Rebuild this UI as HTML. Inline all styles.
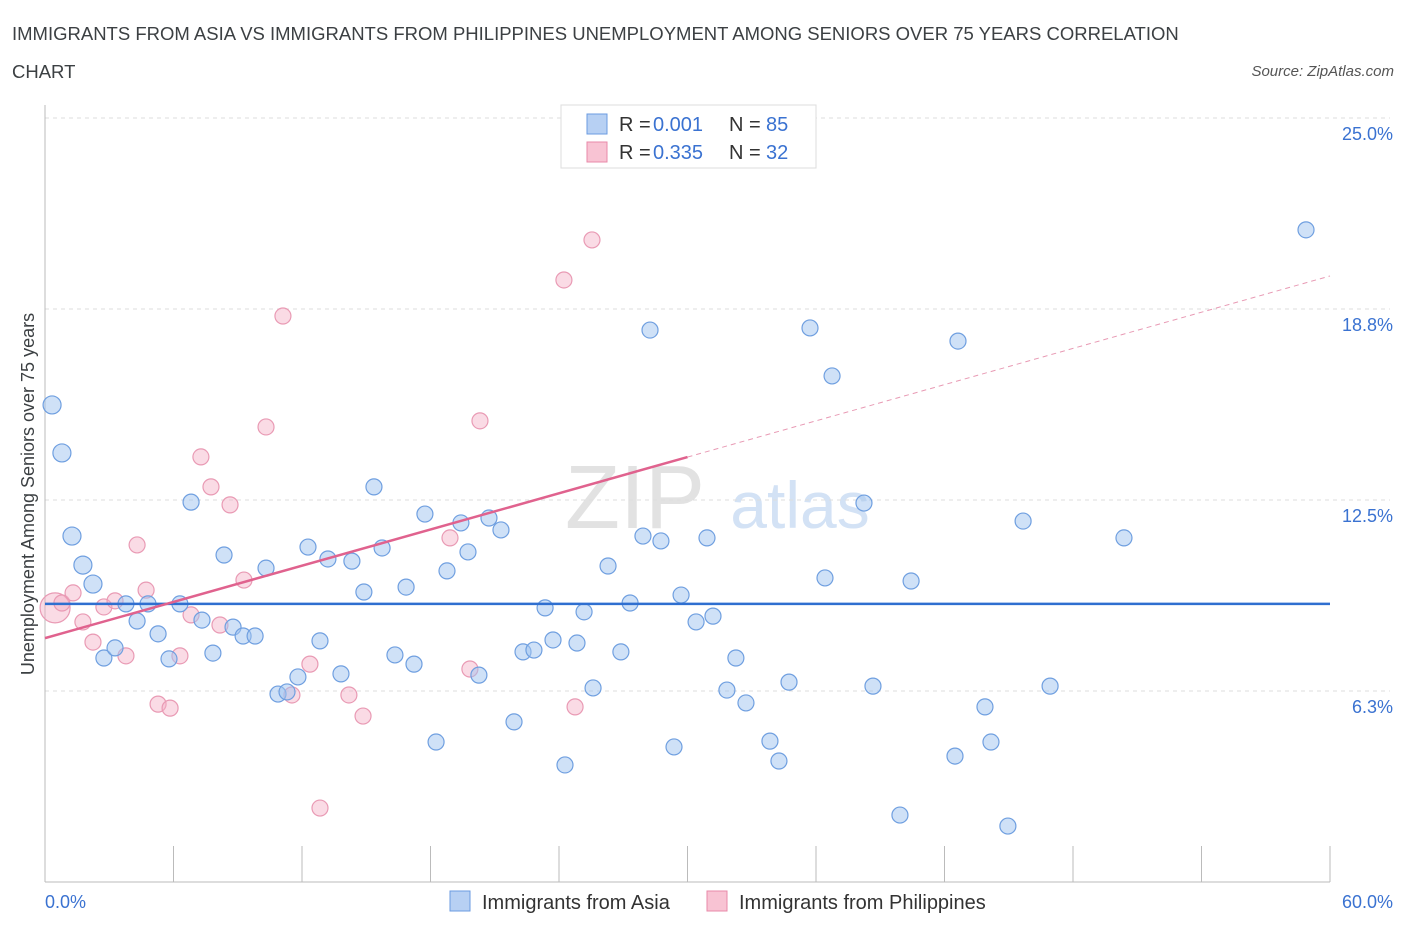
<!DOCTYPE html>
<html><head><meta charset="utf-8"><style>
body{margin:0;background:#fff;font-family:"Liberation Sans",sans-serif;}
svg text{font-family:"Liberation Sans",sans-serif;}
</style></head><body>
<svg id="chart" width="1406" height="930">
<text x="12" y="40" font-size="18.5" fill="#3c4043">IMMIGRANTS FROM ASIA VS IMMIGRANTS FROM PHILIPPINES UNEMPLOYMENT AMONG SENIORS OVER 75 YEARS CORRELATION</text>
<text x="12" y="78" font-size="18.5" fill="#3c4043">CHART</text>
<text x="1394" y="76" font-size="15" fill="#555" font-style="italic" text-anchor="end">Source: ZipAtlas.com</text>
<text x="635" y="528" font-size="90" fill="#e2e2e2" text-anchor="middle" font-family="Liberation Serif">ZIP</text>
<text x="800" y="528" font-size="66" fill="#d3e2f5" text-anchor="middle">atlas</text>
<g id="grid"></g>
<g id="axes"></g>
<g id="marks"></g>
<text transform="translate(34,494) rotate(-90)" font-size="18" fill="#3c4043" text-anchor="middle">Unemployment Among Seniors over 75 years</text>
<g>
<rect x="561" y="105" width="255" height="63" fill="#fff" stroke="#ddd"/>
<rect x="587" y="114" width="20" height="20" fill="#b7d0f3" stroke="#6b9be0"/>
<text x="619" y="131" font-size="20" fill="#333">R =</text>
<text x="653" y="131" font-size="20" fill="#3a72d1">0.001</text>
<text x="729" y="131" font-size="20" fill="#333">N =</text>
<text x="766" y="131" font-size="20" fill="#3a72d1">85</text>
<rect x="587" y="142" width="20" height="20" fill="#f8c3d3" stroke="#e88aa8"/>
<text x="619" y="159" font-size="20" fill="#333">R =</text>
<text x="653" y="159" font-size="20" fill="#3a72d1">0.335</text>
<text x="729" y="159" font-size="20" fill="#333">N =</text>
<text x="766" y="159" font-size="20" fill="#3a72d1">32</text>
</g>
<g>
<rect x="450" y="891" width="20" height="20" fill="#b7d0f3" stroke="#6b9be0"/>
<text x="482" y="909" font-size="20" fill="#333">Immigrants from Asia</text>
<rect x="707" y="891" width="20" height="20" fill="#f8c3d3" stroke="#e88aa8"/>
<text x="739" y="909" font-size="20" fill="#333">Immigrants from Philippines</text>
</g>
</svg>
<script>
const yTicks=[6.25,12.5,18.75,25];
const yTickLabels=["6.3%","12.5%","18.8%","25.0%"];
const xTickLabels=["0.0%","60.0%"];
const asiaPx=[[52,405],[62,453],[72,536],[83,565],[93,584],[104,658],[115,648],[126,604],[137,621],[148,604],[158,634],[169,659],[180,604],[191,502],[202,620],[213,653],[224,555],[233,627],[243,636],[255,636],[266,568],[278,694],[287,692],[298,677],[308,547],[320,641],[328,559],[341,674],[352,561],[364,592],[374,487],[382,548],[395,655],[406,587],[414,664],[425,514],[436,742],[447,571],[461,523],[468,552],[479,675],[489,518],[501,530],[514,722],[523,652],[534,650],[545,608],[553,640],[565,765],[577,643],[584,612],[593,688],[608,566],[621,652],[630,603],[643,536],[650,330],[661,541],[674,747],[681,595],[696,622],[707,538],[713,616],[727,690],[736,658],[746,703],[770,741],[779,761],[789,682],[810,328],[825,578],[832,376],[864,503],[873,686],[900,815],[911,581],[955,756],[958,341],[985,707],[991,742],[1008,826],[1023,521],[1050,686],[1124,538],[1306,230]];
const phPx=[[55,608],[62,603],[73,593],[83,622],[93,642],[104,607],[115,601],[126,656],[137,545],[146,590],[158,704],[170,708],[180,656],[191,615],[201,457],[211,487],[220,625],[230,505],[244,580],[266,427],[283,316],[292,695],[310,664],[320,808],[349,695],[363,716],[450,538],[470,669],[480,421],[564,280],[575,707],[592,240]];
const asiaX=asiaPx.map(p=>+((p[0]-45)*60/1285).toFixed(2));
const asiaY=asiaPx.map(p=>+((882-p[1])*25/764).toFixed(2));
const phX=phPx.map(p=>+((p[0]-45)*60/1285).toFixed(2));
const phY=phPx.map(p=>+((882-p[1])*25/764).toFixed(2));
const asiaTrend=[9.1,9.1];
const phTrend=[7.98,19.83];
const X0=45,X1=1330,Y0=882,Y1=118;
const sx=v=>X0+v/60*(X1-X0);
const sy=v=>Y0-v/25*(Y0-Y1);
const NS="http://www.w3.org/2000/svg";
function mk(tag,attrs,parent){const e=document.createElementNS(NS,tag);for(const k in attrs)e.setAttribute(k,attrs[k]);parent.appendChild(e);return e;}
const grid=document.getElementById('grid'),axes=document.getElementById('axes'),marks=document.getElementById('marks');
yTicks.forEach((t,i)=>{
 const l=mk('line',{x1:X0,x2:X1+60,y1:sy(t),y2:sy(t),stroke:'#ddd','stroke-dasharray':'4,4'},grid);
 
 
 const tx=mk('text',{x:1393,y:sy(t)+22,'font-size':18,fill:'#3a72d1','text-anchor':'end'},axes);
 tx.textContent=yTickLabels[i];
 
 
});
const ya=mk('line',{x1:X0,x2:X0,y1:105,y2:Y0,stroke:'#bbb'},axes);


const xa=mk('line',{x1:X0,x2:X1,y1:Y0,y2:Y0,stroke:'#bbb'},axes);


for(let i=0;i<=10;i++){
 const t=mk('line',{x1:sx(i*6),x2:sx(i*6),y1:846,y2:Y0,stroke:'#bbb'},axes);
 
 
}
const xl0=mk('text',{x:45,y:908,'font-size':18,fill:'#3a72d1'},axes);xl0.textContent=xTickLabels[0];


const xl1=mk('text',{x:1393,y:908,'font-size':18,fill:'#3a72d1','text-anchor':'end'},axes);xl1.textContent=xTickLabels[1];


phX.forEach((x,i)=>{
 const c=mk('circle',{cx:sx(x),cy:sy(phY[i]),r:i===0?15:8,fill:'rgba(245,175,198,0.45)',stroke:'#e99ab4','stroke-width':1.2},marks);
 
 
});
asiaX.forEach((x,i)=>{
 const c=mk('circle',{cx:sx(x),cy:sy(asiaY[i]),r:i<5?9:8,fill:'rgba(160,195,240,0.5)',stroke:'#6f9fe0','stroke-width':1.2},marks);
 
 
});
const bt=mk('line',{x1:sx(0),x2:sx(60),y1:sy(asiaTrend[0]),y2:sy(asiaTrend[1]),stroke:'#2f6fd0','stroke-width':2.5},marks);


const pyAt=x=>phTrend[0]+(phTrend[1]-phTrend[0])*x/60;
const ps=mk('line',{x1:sx(0),x2:sx(30),y1:sy(pyAt(0)),y2:sy(pyAt(30)),stroke:'#e0628e','stroke-width':2.5},marks);


const pd=mk('line',{x1:sx(30),x2:sx(60),y1:sy(pyAt(30)),y2:sy(pyAt(60)),stroke:'#e89ab4','stroke-width':1,'stroke-dasharray':'5,4'},marks);


</script>
</body></html>
